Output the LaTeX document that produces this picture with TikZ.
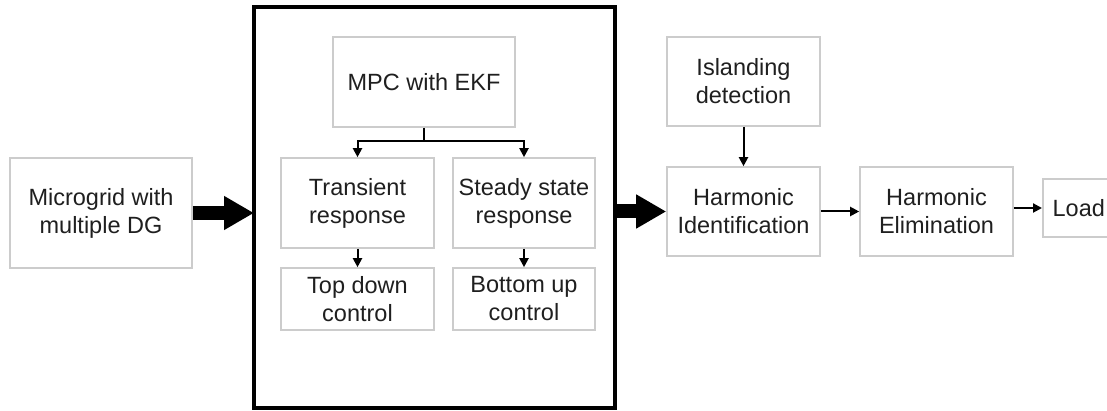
\documentclass[tikz,border=0pt]{standalone}
\usepackage{fontspec}
\setmainfont{Liberation Sans}
\usetikzlibrary{arrows.meta,positioning,calc}
\begin{document}
\begin{tikzpicture}[x=1pt,y=-1pt,
  blk/.style={draw=gray!40, line width=1.6pt, fill=white, align=center, inner sep=0pt,
    text=black!88, font=\fontsize{23.5}{28}\selectfont},
  arr/.style={line width=2pt, -{Triangle[length=9pt,width=9pt]}},
  bigarr/.style={line width=14pt, -{Triangle[length=30pt,width=32pt]}},
]
\clip (0,0) rectangle (1107,411);
\fill[white] (0,0) rectangle (1107,411);
% frame
\node[draw, line width=3.8pt, minimum width=361pt, minimum height=401pt, inner sep=0pt, outer sep=0pt] (frame) at (434.5,207.5) {};
% left
\node[blk, minimum width=182pt, minimum height=110pt] (micro) at (101,213) {Microgrid with\\multiple DG};
% inside frame
\node[blk, minimum width=182pt, minimum height=90pt] (mpc) at (424,82) {MPC with EKF};
\node[blk, minimum width=153pt, minimum height=90pt] (trans) at (357.5,203) {Transient\\response};
\node[blk, minimum width=142pt, minimum height=90pt] (steady) at (524,203) {Steady state\\response};
\node[blk, minimum width=153pt, minimum height=62pt] (topdown) at (357.5,299) {Top down\\control};
\node[blk, minimum width=142pt, minimum height=62pt] (bottomup) at (524,299) {Bottom up\\control};
% right
\node[blk, minimum width=153pt, minimum height=89pt] (island) at (743.5,81.5) {Islanding\\detection};
\node[blk, minimum width=153pt, minimum height=89pt] (hi) at (743.5,211.5) {Harmonic\\Identification};
\node[blk, minimum width=153pt, minimum height=89pt] (he) at (936.5,211.5) {Harmonic\\Elimination};
\node[blk, minimum width=72pt, minimum height=58pt, anchor=west] (load) at (1042,208) {Load};
% connectors
\draw[line width=2pt] (mpc.south) -- ++(0,13) coordinate (j);
\draw[arr] (j) -| (trans.north);
\draw[arr] (j) -| (steady.north);
\draw[arr] (trans.south) -- (topdown.north);
\draw[arr] (steady.south) -- (bottomup.north);
\draw[arr] (island.south) -- (hi.north);
\draw[arr] (hi.east) -- (he.west);
\draw[arr] (load.west -| he.east) -- (load.west);
\draw[bigarr] (micro.east) -- (micro.east -| frame.west);
\draw[bigarr] (hi.west -| frame.east) -- (hi.west);
\end{tikzpicture}
\end{document}
